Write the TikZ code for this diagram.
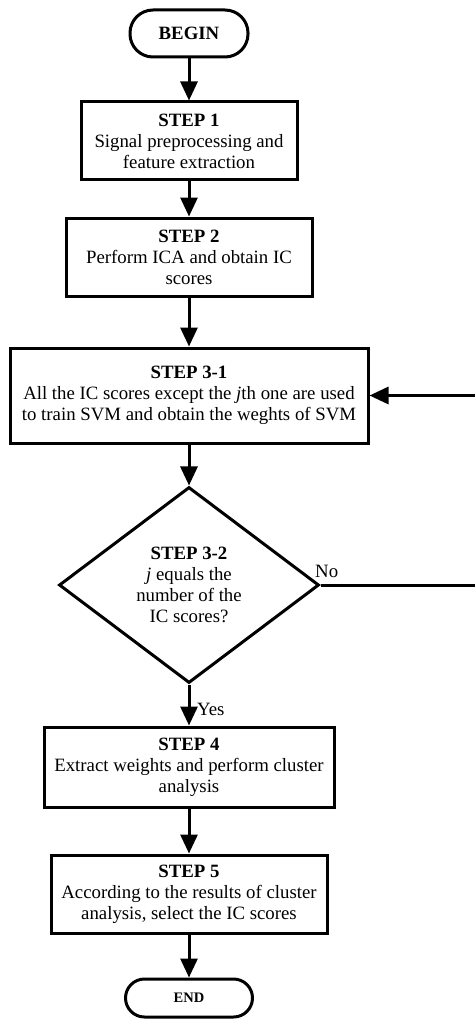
\documentclass[tikz,border=0pt]{standalone}
\usepackage{fontspec}
\setmainfont{Liberation Serif}
\usetikzlibrary{shapes.geometric,arrows.meta}
\begin{document}
\begin{tikzpicture}[x=1pt,y=-1pt,
  every node/.style={font=\fontsize{18.8}{21}\selectfont},
  stepbox/.style={draw,line width=3pt,rectangle,align=center,inner sep=0pt,minimum height=78pt},
  term/.style={draw,line width=3pt,rectangle,rounded corners=19pt,align=center,inner sep=0pt},
  decision/.style={draw,line width=3pt,diamond,aspect=1.33,align=center,inner sep=0pt,minimum width=260pt,minimum height=196pt},
  flow/.style={line width=3pt,-{Triangle[width=17pt,length=19pt]}},
  lbl/.style={font=\fontsize{18.8}{21}\selectfont,inner sep=0pt}]
\useasboundingbox (0,0) rectangle (474,1019);
\node[term,minimum width=118pt,minimum height=47pt,rounded corners=23pt] (begin) at (189,33.5) {\textbf{BEGIN}};
\node[stepbox,minimum width=216pt] (s1) at (189,141) {\textbf{STEP 1}\\Signal preprocessing and\\feature extraction};
\node[stepbox,minimum width=246pt] (s2) at (189,257) {\textbf{STEP 2}\\Perform ICA and obtain IC\\scores};
\node[stepbox,minimum width=358pt,minimum height=95pt] (s31) at (189,395.5) {\textbf{STEP 3-1}\\All the IC scores except the \textit{j}th one are used\\to train SVM and obtain the weghts of SVM};
\node[decision] (d32) at (189,585) {\textbf{STEP 3-2}\\\textit{j} equals the\\number of the\\IC scores?};
\node[stepbox,minimum width=290pt,minimum height=80pt] (s4) at (189,767) {\textbf{STEP 4}\\Extract weights and perform cluster\\analysis};
\node[stepbox,minimum width=276pt] (s5) at (189,894) {\textbf{STEP 5}\\According to the results of cluster\\analysis, select the IC scores};
\node[term,minimum width=127pt,minimum height=38pt,font=\fontsize{14.5}{16}\selectfont] (end) at (189,998) {\textbf{END}};
\node[lbl,anchor=base west] (yes) at (197,715) {Yes};
\node[lbl,anchor=base west] (no) at (315,577) {No};
\coordinate (c1) at (478,585);
\coordinate (c2) at (478,395.5);
\draw[flow] (begin) -- (s1);
\draw[flow] (s1) -- (s2);
\draw[flow] (s2) -- (s31);
\draw[flow] (s31) -- (d32);
\draw[flow] (d32) -- (s4);
\draw[flow] (s4) -- (s5);
\draw[flow] (s5) -- (end);
\draw[flow] (d32.east) -- (c1) -- (c2) -- (s31.east);
\end{tikzpicture}
\end{document}
